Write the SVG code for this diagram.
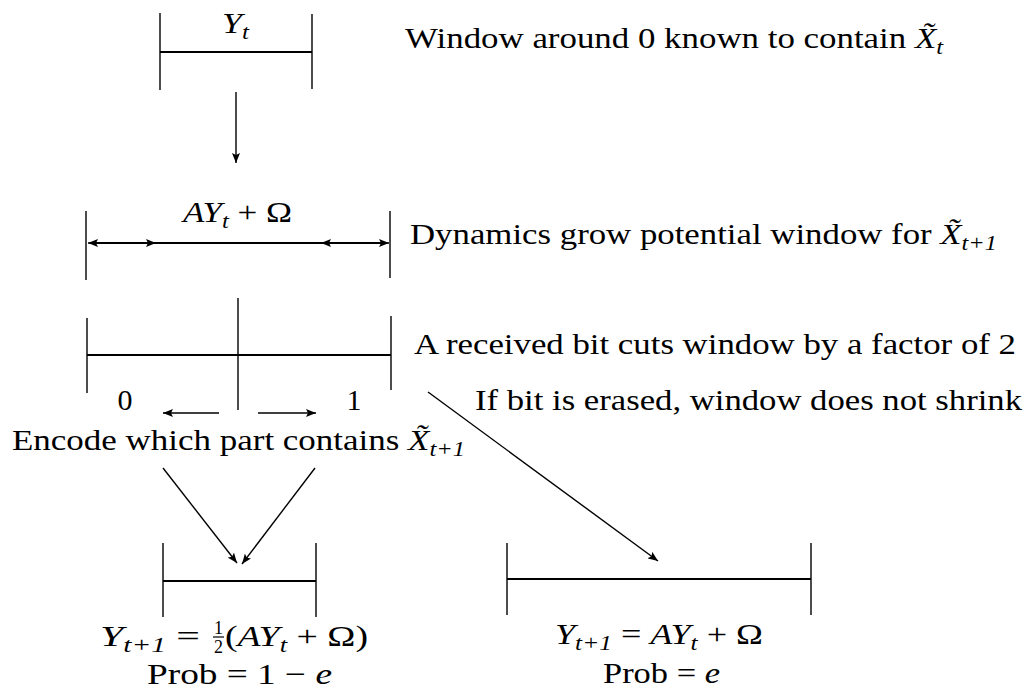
<svg xmlns="http://www.w3.org/2000/svg" width="1024" height="696" viewBox="0 0 1024 696">
<defs>
<marker id="ah" viewBox="0 0 10 8" refX="10" refY="4" markerWidth="10" markerHeight="8" markerUnits="userSpaceOnUse" orient="auto-start-reverse">
<path d="M0,0 L10,4 L0,8 L2,4 Z" fill="#000"/>
</marker>
</defs>
<style>
.ln{stroke:#000;stroke-width:1.4;fill:none}
.bar{stroke:#000;stroke-width:2;fill:none}
.t{font-family:"Liberation Serif","Times New Roman",serif;font-size:30px;fill:#000}
.m{font-family:"Liberation Serif","Times New Roman",serif;font-size:30px;font-style:italic;fill:#000}
.s{font-size:21px}
.f{font-family:"Liberation Serif","Times New Roman",serif;font-size:18px;fill:#000}
.r{font-style:normal}
</style>
<rect width="1024" height="696" fill="#fff"/>

<g id="window-top">
<line class="ln" x1="160" y1="13" x2="160" y2="90"/>
<line class="ln" x1="312" y1="14" x2="312" y2="89"/>
<line class="bar" x1="160" y1="52" x2="312" y2="52"/>
<text class="m" x="222" y="33" textLength="27" lengthAdjust="spacingAndGlyphs">Y<tspan class="s" dy="6">t</tspan></text>
</g>

<g id="label-top">
<text class="t" x="405" y="48" textLength="538" lengthAdjust="spacingAndGlyphs">Window around 0 known to contain <tspan class="m">X̃</tspan><tspan class="m s" dy="6">t</tspan></text>
</g>

<g id="window-grow">
<line class="ln" x1="86" y1="211" x2="86" y2="280"/>
<line class="ln" x1="390" y1="211" x2="390" y2="278"/>
<line class="bar" x1="90" y1="243" x2="386" y2="243"/>
<line class="ln" x1="88" y1="243" x2="156" y2="243" marker-start="url(#ah)" marker-end="url(#ah)"/>
<line class="ln" x1="321" y1="243" x2="389" y2="243" marker-start="url(#ah)" marker-end="url(#ah)"/>
<text class="m" x="183" y="222" textLength="109" lengthAdjust="spacingAndGlyphs">AY<tspan class="s" dy="6">t</tspan><tspan class="r" dy="-6"> + Ω</tspan></text>
</g>

<g id="label-grow">
<text class="t" x="410" y="244" textLength="587" lengthAdjust="spacingAndGlyphs">Dynamics grow potential window for <tspan class="m">X̃</tspan><tspan class="m s" dy="6">t+1</tspan></text>
</g>

<g id="window-split">
<line class="ln" x1="87" y1="318" x2="87" y2="393"/>
<line class="ln" x1="238" y1="298" x2="238" y2="410"/>
<line class="ln" x1="391" y1="316" x2="391" y2="390"/>
<line class="bar" x1="87" y1="355" x2="391" y2="355"/>
<text class="t" x="125" y="410" text-anchor="middle">0</text>
<text class="t" x="354" y="410" text-anchor="middle">1</text>
</g>

<g id="label-cut">
<text class="t" x="414" y="354" textLength="602" lengthAdjust="spacingAndGlyphs">A received bit cuts window by a factor of 2</text>
</g>
<g id="label-erase">
<text class="t" x="475" y="410" textLength="547" lengthAdjust="spacingAndGlyphs">If bit is erased, window does not shrink</text>
</g>
<g id="label-encode">
<text class="t" x="12" y="450" textLength="453" lengthAdjust="spacingAndGlyphs">Encode which part contains <tspan class="m">X̃</tspan><tspan class="m s" dy="6">t+1</tspan></text>
</g>

<g id="window-half">
<line class="ln" x1="163" y1="543" x2="163" y2="617"/>
<line class="ln" x1="316" y1="543" x2="316" y2="617"/>
<line class="bar" x1="163" y1="581" x2="316" y2="581"/>
<text class="m" x="100" y="646" textLength="100" lengthAdjust="spacingAndGlyphs">Y<tspan class="s" dy="6">t+1</tspan><tspan class="r" dy="-6"> =</tspan></text>
<text class="f" x="218.5" y="634" text-anchor="middle">1</text>
<line x1="213" y1="637" x2="224" y2="637" stroke="#000" stroke-width="1.2"/>
<text class="f" x="218.5" y="653" text-anchor="middle">2</text>
<text class="m" x="225" y="646" textLength="143" lengthAdjust="spacingAndGlyphs"><tspan class="r">(</tspan>AY<tspan class="s" dy="6">t</tspan><tspan class="r" dy="-6"> + Ω)</tspan></text>
<text class="t" x="147" y="684" textLength="185" lengthAdjust="spacingAndGlyphs">Prob = 1 − <tspan class="m">e</tspan></text>
</g>

<g id="window-full">
<line class="ln" x1="507" y1="543" x2="507" y2="615"/>
<line class="ln" x1="811" y1="543" x2="811" y2="615"/>
<line class="bar" x1="507" y1="579" x2="811" y2="579"/>
<text class="m" x="555" y="644" textLength="208" lengthAdjust="spacingAndGlyphs">Y<tspan class="s" dy="6">t+1</tspan><tspan class="r" dy="-6"> = </tspan>AY<tspan class="s" dy="6">t</tspan><tspan class="r" dy="-6"> + Ω</tspan></text>
<text class="t" x="603" y="683" textLength="117" lengthAdjust="spacingAndGlyphs">Prob = <tspan class="m">e</tspan></text>
</g>

<g id="connectors">
<line class="ln" x1="236" y1="92" x2="236" y2="163" marker-end="url(#ah)"/>
<line class="ln" x1="219" y1="413" x2="163" y2="413" marker-end="url(#ah)"/>
<line class="ln" x1="258" y1="413" x2="316" y2="413" marker-end="url(#ah)"/>
<line class="ln" x1="163" y1="468" x2="237" y2="563" marker-end="url(#ah)"/>
<line class="ln" x1="315" y1="468" x2="242" y2="564" marker-end="url(#ah)"/>
<line class="ln" x1="428" y1="392" x2="658" y2="561" marker-end="url(#ah)"/>
</g>
</svg>
